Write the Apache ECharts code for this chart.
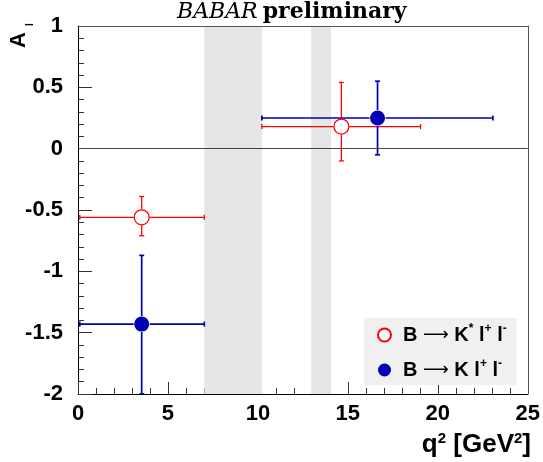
<!DOCTYPE html>
<html>
<head>
<meta charset="utf-8">
<script src="https://cdn.jsdelivr.net/npm/echarts@6/dist/echarts.min.js"></script>
<style>html,body{margin:0;padding:0;background:#fff;}#c{width:543px;height:462px;}</style>
</head>
<body>
<div id="c"></div>
<script>
// ---- data ----
const vetoBands = [[7.02, 10.24], [12.96, 14.06]];

const kstarQ2 = [3.54, 14.64];
const kstarQ2Low = [0.1, 10.22];
const kstarQ2High = [7.02, 19.04];
const kstarAl = [-0.56, 0.18];
const kstarAlLow = [-0.71, -0.10];
const kstarAlHigh = [-0.39, 0.54];

const kQ2 = [3.54, 16.65];
const kQ2Low = [0.1, 10.22];
const kQ2High = [7.02, 23.06];
const kAl = [-1.43, 0.25];
const kAlLow = [-2.0, -0.05];
const kAlHigh = [-0.87, 0.55];

const xTicks = [0, 5, 10, 15, 20, 25];
const yTicks = [-2, -1.5, -1, -0.5, 0, 0.5, 1];

const nameKstar = 'kstar';
const nameK = 'k';

function rows(x, xl, xh, y, yl, yh) {
  return x.map((v, i) => [v, y[i], xl[i], xh[i], yl[i], yh[i]]);
}
const kstarRows = rows(kstarQ2, kstarQ2Low, kstarQ2High, kstarAl, kstarAlLow, kstarAlHigh);
const kRows = rows(kQ2, kQ2Low, kQ2High, kAl, kAlLow, kAlHigh);

function errRender(color, width, gap) {
  return function (params, api) {
    const x = api.value(0), y = api.value(1);
    const c = api.coord([x, y]);
    const l = api.coord([api.value(2), y]);
    const h = api.coord([api.value(3), y]);
    const b = api.coord([x, api.value(4)]);
    const t = api.coord([x, api.value(5)]);
    const cap = 2.5;
    const st = { stroke: color, lineWidth: width };
    const seg = (x1, y1, x2, y2) => ({ type: 'line', shape: { x1, y1, x2, y2 }, style: st });
    return {
      type: 'group',
      children: [
        seg(l[0], c[1], c[0] - gap, c[1]),
        seg(c[0] + gap, c[1], h[0], c[1]),
        seg(c[0], t[1], c[0], c[1] - gap),
        seg(c[0], c[1] + gap, c[0], b[1]),
        seg(l[0], c[1] - cap, l[0], c[1] + cap),
        seg(h[0], c[1] - cap, h[0], c[1] + cap),
        seg(c[0] - cap, t[1], c[0] + cap, t[1]),
        seg(c[0] - cap, b[1], c[0] + cap, b[1])
      ]
    };
  };
}

const FONT = 'Liberation Sans';
const RED = '#ff0000';
const BLUE = '#0000b4';

const chart = echarts.init(document.getElementById('c'), null, { renderer: 'canvas' });

const legendRich = {
  t: { fontFamily: FONT, fontSize: 20, fontWeight: 'bold', color: '#000', lineHeight: 24 },
  a: { fontFamily: 'DejaVu Sans', fontSize: 18, fontWeight: 'normal', color: '#000', lineHeight: 24 },
  s: { fontFamily: FONT, fontSize: 12, fontWeight: 'bold', color: '#000', verticalAlign: 'top', lineHeight: 24 }
};

const option = {
  animation: false,
  backgroundColor: '#fff',
  title: {
    text: '{i|BABAR} {b|preliminary}',
    left: 177, top: 0, padding: 0,
    textStyle: {
      rich: {
        i: { fontFamily: 'DejaVu Serif', fontStyle: 'italic', fontWeight: 'normal', fontSize: 22, color: '#000', lineHeight: 24 },
        b: { fontFamily: 'DejaVu Serif', fontWeight: 'bold', fontSize: 22, color: '#000', lineHeight: 24 }
      }
    }
  },
  grid: { left: 78, right: 13, top: 26, bottom: 68, containLabel: false },
  legend: {
    orient: 'vertical',
    left: 364, top: 318,
    padding: [5, 10, 5, 13],
    itemGap: 13,
    itemWidth: 13, itemHeight: 13,
    backgroundColor: '#f0f0f0',
    data: [nameKstar, nameK],
    formatter: function (n) {
      if (n === nameKstar) return '{t|B }{a|⟶}{t| K}{s|*}{t| l}{s|+}{t| l}{s|-}';
      return '{t|B }{a|⟶}{t| K l}{s|+}{t| l}{s|-}';
    },
    textStyle: { rich: legendRich, padding: [0, 0, 0, 7] }
  },
  xAxis: [{
    type: 'value', min: xTicks[0], max: xTicks[xTicks.length - 1], interval: 5,
    axisLine: { show: true, onZero: false, lineStyle: { color: '#000', width: 1 } },
    axisTick: { show: true, inside: true, length: 12, lineStyle: { color: '#333' } },
    minorTick: { show: true, splitNumber: 5, length: 6, lineStyle: { color: '#333' } },
    splitLine: { show: false },
    axisLabel: { margin: 9, fontFamily: FONT, fontSize: 22, fontWeight: 'bold', color: '#000' }
  }, {
    type: 'value', position: 'top', min: 0, max: 25, z: 10,
    axisLine: { show: true, onZero: false, lineStyle: { color: '#555', width: 1 } },
    axisTick: { show: false }, axisLabel: { show: false }, splitLine: { show: false }
  }],
  yAxis: [{
    type: 'value', min: yTicks[0], max: yTicks[yTicks.length - 1], interval: 0.5,
    axisLine: { show: true, onZero: false, lineStyle: { color: '#000', width: 1 } },
    axisTick: { show: true, inside: true, length: 14, lineStyle: { color: '#333' } },
    minorTick: { show: true, splitNumber: 5, length: 6, lineStyle: { color: '#333' } },
    splitLine: { show: false },
    axisLabel: { margin: 15, fontFamily: FONT, fontSize: 22, fontWeight: 'bold', color: '#000' }
  }, {
    type: 'value', position: 'right', min: -2, max: 1, z: 10,
    axisLine: { show: true, onZero: false, lineStyle: { color: '#555', width: 1 } },
    axisTick: { show: false }, axisLabel: { show: false }, splitLine: { show: false }
  }],
  graphic: [{
    type: 'text', z: 20, x: 30, y: 48, rotation: Math.PI / 2,
    style: { text: 'A', font: 'bold 22px "Liberation Sans"', fill: '#000', align: 'left', verticalAlign: 'bottom' }
  }, {
    type: 'text', z: 20, x: 35, y: 26, rotation: Math.PI / 2,
    style: { text: 'l', font: 'bold 10px "Liberation Sans"', fill: '#000', align: 'left', verticalAlign: 'bottom' }
  }, {
    type: 'text', x: 531, y: 445, z: 20,
    style: {
      text: '{t|q}{s|2}{t| [GeV}{s|2}{t|]}', align: 'right', verticalAlign: 'middle',
      rich: {
        t: { fontFamily: FONT, fontSize: 26, fontWeight: 'bold', fill: '#000', lineHeight: 28 },
        s: { fontFamily: FONT, fontSize: 15, fontWeight: 'bold', fill: '#000', verticalAlign: 'top', lineHeight: 28 }
      }
    }
  }],
  series: [{
    type: 'line', data: [], z: 1, silent: true,
    markLine: {
      silent: true, symbol: 'none', label: { show: false },
      lineStyle: { color: '#444', width: 1, type: 'solid' },
      data: [{ yAxis: 0 }]
    }
  }, {
    type: 'line', data: [], z: 2, silent: true,
    markArea: {
      silent: true, itemStyle: { color: '#e6e6e6', opacity: 1 },
      data: vetoBands.map(b => [{ xAxis: b[0] }, { xAxis: b[1] }])
    }
  }, {
    type: 'custom', z: 3, clip: true, silent: true,
    renderItem: errRender(RED, 1.3, 8),
    data: kstarRows, encode: { x: 0, y: 1 }
  }, {
    type: 'custom', z: 3, clip: true, silent: true,
    renderItem: errRender(BLUE, 1.7, 8),
    data: kRows, encode: { x: 0, y: 1 }
  }, {
    name: nameKstar, type: 'scatter', z: 4, symbol: 'circle', symbolSize: 15,
    itemStyle: { color: '#fff', borderColor: RED, borderWidth: 1.3, opacity: 1 },
    data: kstarRows.map(r => [r[0], r[1]])
  }, {
    name: nameK, type: 'scatter', z: 4, symbol: 'circle', symbolSize: 15,
    itemStyle: { color: BLUE, opacity: 1 },
    data: kRows.map(r => [r[0], r[1]])
  }]
};
chart.setOption(option);
</script>
</body>
</html>
